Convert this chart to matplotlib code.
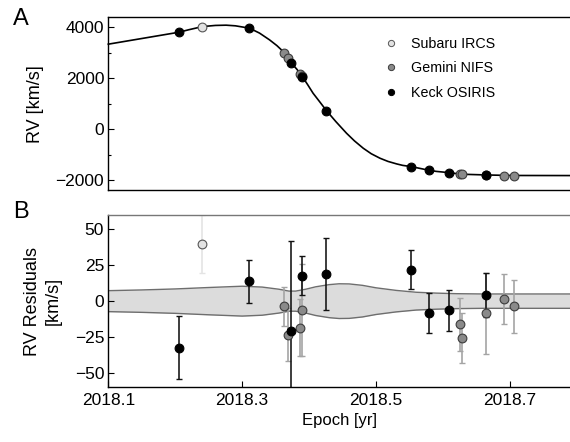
import matplotlib
matplotlib.use("Agg")
import matplotlib.pyplot as plt
from matplotlib.lines import Line2D

plt.rcParams['font.family'] = ['Liberation Sans', 'DejaVu Sans']

# model RV curve
curve_t = [2018.10, 2018.206, 2018.22, 2018.241, 2018.26, 2018.276, 2018.29, 2018.311,
           2018.326, 2018.341, 2018.352, 2018.363, 2018.373, 2018.382, 2018.390, 2018.398,
           2018.406, 2018.416, 2018.426, 2018.44, 2018.456, 2018.468, 2018.481, 2018.493,
           2018.506, 2018.518, 2018.531, 2018.54, 2018.553, 2018.579, 2018.59, 2018.609,
           2018.628, 2018.664, 2018.70, 2018.85]
curve_rv = [3327, 3796, 3890, 4016, 4060, 4070, 4045, 3953,
            3760, 3495, 3270, 2998, 2607, 2340, 2059, 1740,
            1409, 1070, 728, 300, -157, -460, -744, -960,
            -1135, -1260, -1358, -1415, -1464, -1605, -1650, -1699,
            -1761, -1789, -1810, -1816]

# uncertainty band half width on the residuals
band_t = [2018.10, 2018.15, 2018.20, 2018.25, 2018.30, 2018.33, 2018.355, 2018.37, 2018.38,
          2018.395, 2018.41, 2018.43, 2018.445, 2018.46, 2018.48, 2018.50, 2018.53, 2018.56,
          2018.59, 2018.62, 2018.66, 2018.85]
band_w = [7.3, 7.8, 8.5, 9.5, 10.4, 9.8, 8.3, 7.0, 7.0,
          8.3, 10.0, 11.5, 12.1, 12.0, 11.0, 9.3, 7.5, 6.2,
          5.6, 5.2, 5.0, 5.0]

subaru_t = [2018.240]
subaru_rv = [4016]
subaru_res = [39.9]
subaru_err = [20]

gemini_t = [2018.362, 2018.368, 2018.387, 2018.390, 2018.625, 2018.628, 2018.664, 2018.691, 2018.707]
gemini_rv = [2998, 2802, 2153, 2100, -1761, -1761, -1789, -1816, -1816]
gemini_res = [-3.5, -23.4, -18.5, -6.2, -16.2, -25.4, -8.5, 1.4, -3.5]
gemini_err = [13.5, 18.5, 19.7, 32, 18.5, 17.4, 28, 17.3, 18.5]

keck_t = [2018.206, 2018.311, 2018.373, 2018.390, 2018.426, 2018.553, 2018.579, 2018.609, 2018.664]
keck_rv = [3796, 3953, 2607, 2059, 728, -1464, -1605, -1699, -1789]
keck_res = [-32.4, 13.9, -20.8, 17.8, 19.0, 22.0, -8.1, -6.5, 4.4]
keck_err = [22, 15, 63, 13.6, 25, 13.7, 13.8, 14, 15.5]

sub_face, sub_edge, sub_bar = '#e2e2e2', '#555555', '#e4e4e4'
gem_face, gem_edge, gem_bar = '#8a8a8a', '#3c3c3c', '#a4a4a4'
keck_face = '#000000'

fig = plt.figure(figsize=(5.7, 4.42), dpi=100)
W = 461.7 / 570
ax1 = fig.add_axes([108.3 / 570, 1 - 190.3 / 442, W, 173.3 / 442])
ax2 = fig.add_axes([108.3 / 570, 1 - 387.3 / 442, W, 172.3 / 442])

ms = 6.3
# top panel
ax1.plot(curve_t, curve_rv, color='black', lw=1.2, zorder=2, clip_on=False)
ax1.plot(gemini_t, gemini_rv, 'o', ms=ms, mfc=gem_face, mec=gem_edge, mew=0.8, zorder=3)
ax1.plot(subaru_t, subaru_rv, 'o', ms=ms, mfc=sub_face, mec=sub_edge, mew=0.8, zorder=3)
ax1.plot(keck_t, keck_rv, 'o', ms=ms, mfc=keck_face, mec='black', mew=0.8, zorder=4)
ax1.set_xlim(2018.1, 2018.79)
ax1.set_ylim(-2390, 4390)
ax1.set_yticks([-2000, 0, 2000, 4000])
ax1.set_yticks([-1000, 1000, 3000], minor=True)
ax1.set_xticks([])
ax1.set_ylabel('RV [km/s]', fontsize=13)
ax1.yaxis.set_label_coords(-0.139, 0.5)

handles = [Line2D([], [], ls='none', marker='o', ms=4.5, mfc=sub_face, mec=sub_edge, mew=0.7),
           Line2D([], [], ls='none', marker='o', ms=4.5, mfc=gem_face, mec=gem_edge, mew=0.7),
           Line2D([], [], ls='none', marker='o', ms=4.5, mfc=keck_face, mec='black', mew=0.7)]
fig.legend(handles, ['Subaru IRCS', 'Gemini NIFS', 'Keck OSIRIS'], loc='upper left',
           bbox_to_anchor=(384 / 570, 1 - 37 / 442), frameon=False, fontsize=10.3,
           borderpad=0, handlelength=1.0, handletextpad=0.9, labelspacing=0.72, borderaxespad=0)

# bottom panel
lo = [-w for w in band_w]
ax2.fill_between(band_t, lo, band_w, color='#dcdcdc', lw=0, zorder=1)
ax2.plot(band_t, band_w, color='#6e6e6e', lw=1.0, zorder=1.5)
ax2.plot(band_t, lo, color='#6e6e6e', lw=1.0, zorder=1.5)

ax2.errorbar(subaru_t, subaru_res, yerr=subaru_err, fmt='none', ecolor=sub_bar,
             elinewidth=1.2, capsize=2, capthick=1, zorder=2)
ax2.errorbar(gemini_t, gemini_res, yerr=gemini_err, fmt='none', ecolor=gem_bar,
             elinewidth=1.2, capsize=2, capthick=1, zorder=2)
ax2.errorbar(keck_t, keck_res, yerr=keck_err, fmt='none', ecolor='#111111',
             elinewidth=1.15, capsize=2, capthick=1, zorder=2.5)
ax2.plot(subaru_t, subaru_res, 'o', ms=ms, mfc=sub_face, mec=sub_edge, mew=0.8, zorder=3)
ax2.plot(gemini_t, gemini_res, 'o', ms=ms, mfc=gem_face, mec=gem_edge, mew=0.8, zorder=3)
ax2.plot(keck_t, keck_res, 'o', ms=ms, mfc=keck_face, mec='black', mew=0.8, zorder=4)

ax2.set_xlim(2018.1, 2018.79)
ax2.set_ylim(-60, 60)
ax2.set_yticks([-50, -25, 0, 25, 50])
ax2.set_xticks([2018.1, 2018.3, 2018.5, 2018.7])
ax2.set_xticklabels(['2018.1', '2018.3', '2018.5', '2018.7'])
ax2.set_ylabel('RV Residuals\n[km/s]', fontsize=13, linespacing=1.3)
ax2.yaxis.set_label_coords(-0.100, 0.5)
ax2.set_xlabel('Epoch [yr]', fontsize=12)
ax2.spines['top'].set_color('#777777')
ax2.spines['top'].set_linewidth(1.3)

for ax in (ax1, ax2):
    ax.tick_params(which='major', direction='in', length=4, width=0.8, labelsize=12.5, pad=3)
    ax.tick_params(which='minor', direction='in', length=2.5, width=0.8)
    ax.tick_params(axis='x', pad=4)
    for s in ax.spines.values():
        s.set_linewidth(1.0)
    ax.spines['right'].set_visible(False)

fig.text(12.5 / 570, 1 - 25 / 442, 'A', fontsize=17)
fig.text(13 / 570, 1 - 218 / 442, 'B', fontsize=17)

fig.savefig('out.png', dpi=100)
